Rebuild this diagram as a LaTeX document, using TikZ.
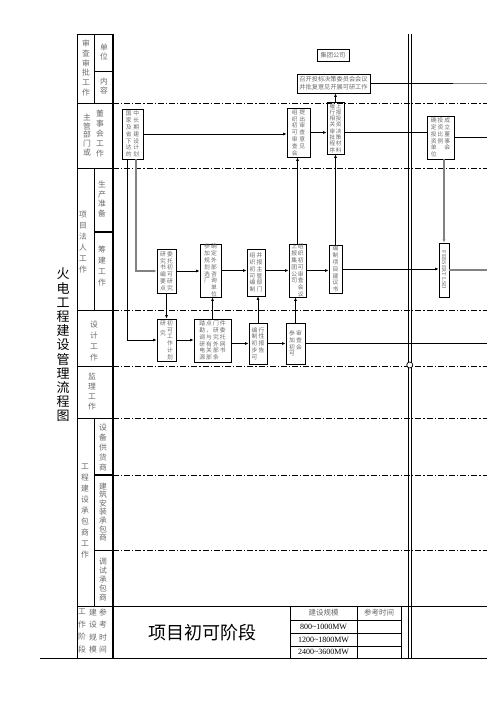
\documentclass[tikz,border=0pt]{standalone}
\usepackage{fontspec}
\setmainfont{Liberation Serif}
\newfontfamily\cjk{Noto Sans CJK SC}
\usetikzlibrary{arrows.meta}
\ExplSyntaxOn
\NewDocumentCommand\vc{O{6.8pt}m}{\vtop{\baselineskip=#1\relax\lineskiplimit=-20pt\tl_map_inline:nn{#2}{\hbox~to~1em{\hss##1\hss}}}}
\ExplSyntaxOff
\definecolor{txt}{RGB}{105,105,105}
\definecolor{lgray}{RGB}{130,130,130}
\tikzset{
  box/.style={draw, line width=0.8pt, inner sep=0pt, text=txt, font=\cjk\fontsize{5.8}{7}\selectfont},
  hbox/.style={draw, line width=0.8pt, inner sep=0pt, text=txt, font=\cjk\fontsize{6.2}{8}\selectfont, align=center},
  lab/.style={inner sep=0pt, text=txt, font=\cjk\fontsize{7.8}{9}\selectfont},
  frame/.style={line width=0.7pt},
  thick frame/.style={line width=1.6pt},
  dd/.style={line width=0.8pt, dash pattern=on 6pt off 2pt on 1.2pt off 2pt},
  arr/.style={line width=0.9pt, -{Latex[length=3.5pt,width=3pt]}},
  garr/.style={line width=1.1pt, lgray, -{Latex[length=3.5pt,width=3pt]}},
  ln/.style={line width=0.9pt},
  gln/.style={line width=1.2pt, lgray},
}
\begin{document}
\begin{tikzpicture}[x=1pt,y=-1pt]
\useasboundingbox (0,0) rectangle (496,702);
\coordinate (edge) at (487,0);
% ---------- left frame ----------
\draw[frame] (77,34) -- (113,34);
\draw[frame] (77,34) -- (77,658);
\draw[thick frame] (113,34) -- (113,658);
\draw[frame] (94,34) -- (94,103);
\draw[frame] (94,168) -- (94,310);
\draw[frame] (94,418) -- (94,606);
\draw[frame] (94,71) -- (113,71);
\draw[thick frame] (94,232) -- (113,232);
\draw[thick frame] (94,475) -- (113,475);
\draw[frame] (94,550) -- (113,550);
\foreach \yy in {103,168,310,366,418}{\draw[frame] (77,\yy) -- (113,\yy);}
\draw[frame] (77,606) -- (487,606);
\draw[frame] (40,658) -- (487,658);
% dash-dot row lines
\foreach \yy in {103,168,310,366,418,475,550}{\draw[dd] (113,\yy) -- (487,\yy);}
% double vertical line
\draw[line width=0.7pt] (408,34) -- (408,658);
\draw[line width=0.7pt] (411.5,34) -- (411.5,658);
\node[circle, draw, fill=white, line width=0.7pt, minimum size=6pt, inner sep=0pt] (ring) at (409.75,365) {};
% ---------- left labels ----------
\node[lab] (t1) at (86,68) {\vc[9.8pt]{审查审批工作}};
\node[lab] (t2) at (104,52) {\vc[9pt]{单位}};
\node[lab] (t3) at (104,86) {\vc[9pt]{内容}};
\node[lab] (t4) at (87,135) {\vc[8.8pt]{主管部门或}};
\node[lab] (t5) at (100,134) {\vc[10pt]{董事会工作}};
\node[lab] (t6) at (83,242) {\vc[11pt]{项目法人工作}};
\node[lab] (t7) at (102,199) {\vc[9.5pt]{生产准备}};
\node[lab] (t8) at (102,266) {\vc[11pt]{筹建工作}};
\node[lab] (t9) at (94,341) {\vc[11pt]{设计工作}};
\node[lab] (t10) at (92,392) {\vc[10pt]{监理工作}};
\node[lab] (t11) at (85,511) {\vc[10.9pt]{工程建设承包商工作}};
\node[lab] (t12) at (103,448) {\vc[10pt]{设备供货商}};
\node[lab] (t13) at (103,512) {\vc[8.6pt]{建筑安装承包商}};
\node[lab] (t14) at (103,580) {\vc[9pt]{调试承包商}};
\node[lab] (t15) at (82,631) {\vc[12.5pt]{工作阶段}};
\node[lab] (t16) at (93,631) {\vc[12.5pt]{建设规模}};
\node[lab] (t17) at (103,631) {\vc[12.5pt]{参考时间}};
\node[inner sep=0pt, font=\cjk\fontsize{13}{14}\selectfont] (title) at (63,345) {\vc[14.2pt]{火电工程建设管理流程图}};
\node[inner sep=0pt, font=\cjk\fontsize{18}{20}\selectfont] (stage) at (202,633) {项目初可阶段};
% ---------- bottom table ----------
\draw[frame] (290,606) rectangle (401,658);
\draw[frame] (357,606) -- (357,658);
\foreach \yy in {620,633,646}{\draw[frame] (290,\yy) -- (401,\yy);}
\node[lab, font=\cjk\fontsize{7.5}{8}\selectfont] (h1) at (323.5,613) {建设规模};
\node[lab, font=\cjk\fontsize{7.5}{8}\selectfont] (h2) at (379,613) {参考时间};
\node[inner sep=0pt, font=\fontsize{8}{9}\selectfont] (s1) at (323.5,626.5) {800\textasciitilde1000MW};
\node[inner sep=0pt, font=\fontsize{8}{9}\selectfont] (s2) at (323.5,639.5) {1200\textasciitilde1800MW};
\node[inner sep=0pt, font=\fontsize{8}{9}\selectfont] (s3) at (323.5,652) {2400\textasciitilde3600MW};
% ---------- boxes ----------
\node[hbox, minimum width=32pt, minimum height=12pt] (bj) at (333,55) {集团公司};
\node[hbox, minimum width=73pt, minimum height=19pt] (bz) at (333.5,83.5) {召开投标决策委员会会议\\并批复意见开展可研工作};
\node[box, minimum width=21pt, minimum height=50pt] (b1) at (132.5,134) {\vc{国家及省下达的}\kern1.5pt\vc{中长期建设计划}};
\node[box, minimum width=23pt, minimum height=49pt] (b2) at (298.5,132.5) {\vc{组织初可审查会}\kern1.5pt\vc{提出审查意见}};
\node[box, minimum width=17pt, minimum height=52pt, font=\cjk\fontsize{5.6}{6}\selectfont] (b3) at (335.5,128) {\vc[6.3pt]{履行相关审批程序}\kern0.5pt\vc[6.3pt]{上报投资决策材料}};
\node[box, minimum width=27pt, minimum height=43pt] (b4) at (440.5,137.5) {\vc{确定投资单位}\kern1pt\vc{投资比例}\kern1pt\vc{成立董事会}};
\node[box, minimum width=19pt, minimum height=44pt] (A) at (166.5,271) {\vc{研究书编要点}\kern1pt\vc{委托初可研究}};
\node[box, minimum width=21pt, minimum height=51pt] (B) at (210.5,270.5) {\vc{参加规划选厂}\kern1pt\vc{确定外部咨询单位}};
\node[box, minimum width=18pt, minimum height=47pt] (C) at (256,272.5) {\vc{组织初可编制}\kern1pt\vc{并报主管部门}};
\node[box, minimum width=17pt, minimum height=53pt] (D) at (297.5,270.5) {\vc{上报集团公司}\kern0.5pt\vc{组织初可审查会议}};
\node[box, minimum width=13pt, minimum height=48pt] (E) at (335.5,269) {\vc{编制项目建议书}};
\node[box, minimum width=10pt, minimum height=54pt, font=\fontsize{6}{7}\selectfont] (F) at (444,270) {\rotatebox{-90}{FEBSERT\,\,LSD}};
\node[box, minimum width=19pt, minimum height=42pt] (G) at (166.5,340) {\vc[10pt]{研究}\kern1pt\vc{初可工作计划}};
\node[box, minimum width=37pt, minimum height=43pt] (H) at (212.5,340.5) {\vc{踏勘调研电源}\kern1pt\vc{点，与有关部}\kern1pt\vc{门研究外部条}\kern1pt\vc{件委托网书}};
\node[box, minimum width=18pt, minimum height=41pt] (I) at (258,343.5) {\vc{编制初步可}\kern1pt\vc{行性报告}};
\node[box, minimum width=19pt, minimum height=41pt] (J) at (295.5,343.5) {\vc{参加初可}\kern1pt\vc{审查会}};
% ---------- connectors ----------
\draw[arr] (b1.east) -- (b1.east -| b2.west);
\draw[arr] (b2.east) -- (b2.east -| b3.west);
\draw[ln] (b3.east |- b2.east) -- (b4.west |- b2.east);
\draw[arr] (b3.north) -- (b3.north |- bz.south);
\draw[ln] (bz.east) -- ([xshift=453pt]bz.east -| 0,0);
\draw[gln] ([xshift=453pt]bz.east -| 0,0) -- (bz.east -| edge);
\draw[ln] (b4.east) -- (b4.east -| edge);
\draw[garr] (F.north |- b4.south) -- (F.north);
\draw[garr] ([xshift=3.5pt]b1.south) -- ([xshift=3.5pt]b1.south |- A.west) -- (A.west);
\draw[arr] ([xshift=-5.5pt]b1.south) -- ([xshift=-5.5pt]b1.south |- G.west) -- (G.west);
\draw[arr] (A.east) -- (A.east -| B.west);
\draw[arr] (B.east) -- (B.east -| C.west);
\draw[arr] (C.east |- D.west) -- (D.west);
\draw[arr] (D.east) -- (D.east -| E.west);
\draw[arr] (E.east) -- (E.east -| F.west);
\draw[gln] (F.east) -- (F.east -| edge);
\draw[arr] (D.north) -- (D.north |- b2.south);
\draw[arr] (E.north) -- (E.north |- b3.south);
\draw[arr] (A.south) -- (G.north);
\draw[arr] (G.east) -- (G.east -| H.west);
\draw[arr] (H.north) -- (H.north |- B.south);
\draw[arr] (H.east |- I.west) -- (I.west);
\draw[arr] (I.north) -- (I.north |- C.south);
\draw[arr] (I.east) -- (I.east -| J.west);
\draw[arr] (J.north) -- (J.north |- D.south);
\draw[ln] (J.east) -- (J.east -| edge);
\end{tikzpicture}
\end{document}
